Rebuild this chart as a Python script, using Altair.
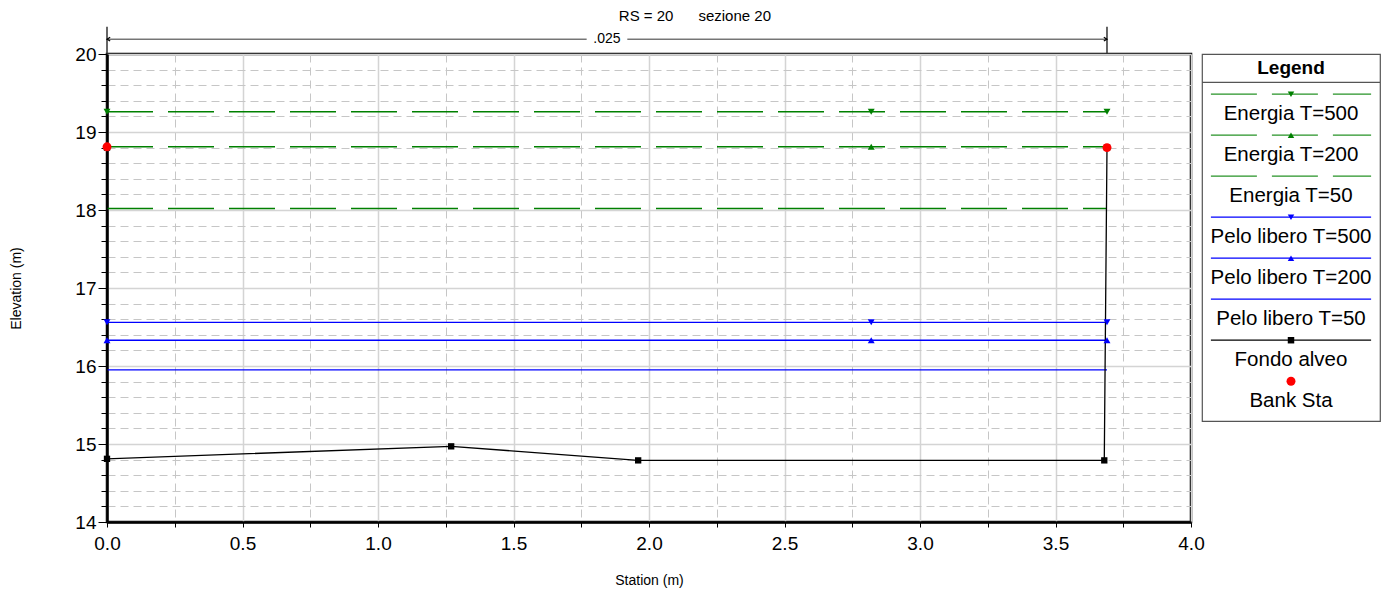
import altair as alt
import pandas as pd

FONT = "Liberation Sans"

# ---------------- data ----------------
title_text = "RS = 20\u00a0\u00a0\u00a0\u00a0\u00a0 sezione 20"

ground_station = [0.0, 0.0, 1.27, 1.96, 3.68, 3.69]
ground_elev = [18.80, 14.81, 14.97, 14.79, 14.79, 18.80]

bank_station = [0.0, 3.69]
bank_elev = [18.81, 18.80]

profile_names = ["Energia T=500", "Energia T=200", "Energia T=50",
                 "Pelo libero T=500", "Pelo libero T=200", "Pelo libero T=50"]
profile_elev = [19.26, 18.81, 18.02, 16.56, 16.33, 15.95]
profile_color = ["#008000", "#008000", "#008000", "#0000ff", "#0000ff", "#0000ff"]
profile_shape = ["triangle-down", "triangle-up", "", "triangle-down", "triangle-up", ""]
profile_is_energy = [True, True, True, False, False, False]
profile_from = 0.0
profile_to = 3.69
marker_stations = [0.0, 2.82, 3.69]

n_value_text = ".025"
n_from = 0.0
n_to = 3.69

x_ticks = [0.0, 0.25, 0.5, 0.75, 1.0, 1.25, 1.5, 1.75, 2.0, 2.25, 2.5, 2.75,
           3.0, 3.25, 3.5, 3.75, 4.0]
y_ticks = [14.0, 14.2, 14.4, 14.6, 14.8, 15.0, 15.2, 15.4, 15.6, 15.8, 16.0,
           16.2, 16.4, 16.6, 16.8, 17.0, 17.2, 17.4, 17.6, 17.8, 18.0, 18.2,
           18.4, 18.6, 18.8, 19.0, 19.2, 19.4, 19.6, 19.8, 20.0]

legend_labels = ["Energia T=500", "Energia T=200", "Energia T=50",
                 "Pelo libero T=500", "Pelo libero T=200", "Pelo libero T=50",
                 "Fondo alveo", "Bank Sta"]
legend_colors = ["#008000", "#008000", "#008000", "#0000ff", "#0000ff", "#0000ff",
                 "#000000", "#ff0000"]
legend_shapes = ["triangle-down", "triangle-up", "", "triangle-down", "triangle-up", "",
                 "square", "circle"]
legend_has_line = [True, True, True, True, True, True, True, False]
legend_dashed = [True, True, True, False, False, False, False, False]

# ---------------- tables ----------------
df_ground = pd.DataFrame({"station": ground_station, "elev": ground_elev,
                          "order": list(range(len(ground_station)))})
df_bank = pd.DataFrame({"station": bank_station, "elev": bank_elev})
df_prof = pd.DataFrame({"name": profile_names, "elev": profile_elev,
                        "color": profile_color, "energy": profile_is_energy,
                        "station": profile_from, "station2": profile_to})
rows = []
for n, e, c, s in zip(profile_names, profile_elev, profile_color, profile_shape):
    if s:
        for st in marker_stations:
            rows.append({"name": n, "station": st, "elev": e, "color": c, "shape": s})
df_marks = pd.DataFrame(rows)

n_mid = (n_from + n_to) / 2
n_gap = 0.075
ANN_Y = 20.19
ANN_TOP = 20.35
df_ann_h = pd.DataFrame({"station": [n_from, n_mid + n_gap], "station2": [n_mid - n_gap, n_to],
                         "elev": [ANN_Y, ANN_Y]})
df_ann_v = pd.DataFrame({"station": [n_from, n_to], "elev": [20.0, 20.0], "elev2": [ANN_TOP, ANN_TOP]})
df_ann_t = pd.DataFrame({"station": [n_mid], "elev": [ANN_Y], "txt": [n_value_text]})
df_arrow_l = pd.DataFrame({"station": [n_from], "elev": [ANN_Y]})
df_arrow_r = pd.DataFrame({"station": [n_to], "elev": [ANN_Y]})

# ---------------- scales / axes ----------------
major_x = "abs(datum.value*2 - round(datum.value*2)) < 0.001"
major_y = "abs(datum.value - round(datum.value)) < 0.001"

xscale = alt.Scale(domain=[0, 4], nice=False, zero=False)
yscale = alt.Scale(domain=[14, 20], nice=False, zero=False)

xaxis = alt.Axis(
    title="Station (m)", values=x_ticks,
    labelExpr=f"({major_x}) ? format(datum.value, '.1f') : ''",
    labelOverlap=False, labelFlush=False, labelFontSize=19, labelFont=FONT,
    labelColor="black", labelPadding=7,
    titleFontSize=14, titleFont=FONT, titleFontWeight="normal", titleColor="black",
    titlePadding=20,
    tickColor="#000000", tickSize=5, tickWidth=1,
    gridColor={"condition": {"test": major_x, "value": "#d4d4d4"}, "value": "#c6c6c6"},
    gridDash={"condition": {"test": major_x, "value": []}, "value": [8, 5]},
    gridWidth={"condition": {"test": major_x, "value": 1.5}, "value": 1},
    domainColor="black", domainWidth=2.5,
)
yaxis = alt.Axis(
    title="Elevation (m)", values=y_ticks,
    labelExpr=f"({major_y}) ? format(datum.value, 'd') : ''",
    labelOverlap=False, labelFontSize=19, labelFont=FONT, labelColor="black",
    labelPadding=2,
    titleFontSize=14, titleFont=FONT, titleFontWeight="normal", titleColor="black",
    titlePadding=51,
    tickColor="#000000",
    tickSize={"condition": {"test": major_y, "value": 9}, "value": 6},
    tickWidth=1,
    gridColor={"condition": {"test": major_y, "value": "#d4d4d4"}, "value": "#c6c6c6"},
    gridDash={"condition": {"test": major_y, "value": []}, "value": [8, 5]},
    gridWidth={"condition": {"test": major_y, "value": 1.5}, "value": 1},
    domainColor="black", domainWidth=2.5,
)


def X(f="station"):
    return alt.X(f"{f}:Q", scale=xscale, axis=xaxis)


def Y(f="elev"):
    return alt.Y(f"{f}:Q", scale=yscale, axis=yaxis)


energy = alt.Chart(df_prof).transform_filter("datum.energy").mark_rule(
    strokeWidth=1.5, strokeDash=[46, 15]).encode(
    x=X(), x2="station2:Q", y=Y(), color=alt.Color("color:N", scale=None))
water = alt.Chart(df_prof).transform_filter("!datum.energy").mark_rule(
    strokeWidth=1.3).encode(
    x=X(), x2="station2:Q", y=Y(), color=alt.Color("color:N", scale=None))
markers = alt.Chart(df_marks).mark_point(filled=True, size=48, opacity=1).encode(
    x=X(), y=Y(), color=alt.Color("color:N", scale=None),
    shape=alt.Shape("shape:N", scale=None))
ground_line = alt.Chart(df_ground).mark_line(color="#000000", strokeWidth=1.3).encode(
    x=X(), y=Y(), order="order:Q")
ground_pts = alt.Chart(df_ground).mark_point(
    shape="square", filled=True, size=40, color="#000000", opacity=1).encode(x=X(), y=Y())
bank = alt.Chart(df_bank).mark_circle(size=80, color="#ff0000", opacity=1).encode(x=X(), y=Y())

ann_h = alt.Chart(df_ann_h).mark_rule(color="#333333", strokeWidth=1, clip=False).encode(
    x=X(), x2="station2:Q", y=Y())
ann_v = alt.Chart(df_ann_v).mark_rule(color="#333333", strokeWidth=1.5, clip=False).encode(
    x=X(), y=Y(), y2="elev2:Q")
ann_t = alt.Chart(df_ann_t).mark_text(font=FONT, fontSize=14, color="black",
                                      baseline="middle", clip=False).encode(
    x=X(), y=Y(), text="txt:N")
arrow_l = alt.Chart(df_arrow_l).mark_point(
    shape="M1,-0.6L0,0L1,0.6", filled=False, size=40, color="#000000",
    strokeWidth=1.2, opacity=1, clip=False).encode(x=X(), y=Y())
arrow_r = alt.Chart(df_arrow_r).mark_point(
    shape="M-1,-0.6L0,0L-1,0.6", filled=False, size=40, color="#000000",
    strokeWidth=1.2, opacity=1, clip=False).encode(x=X(), y=Y())

main = alt.layer(energy, water, ground_line, ground_pts, markers, bank,
                 ann_h, ann_v, ann_t, arrow_l, arrow_r).properties(
    width=1084, height=468,
    view=alt.ViewBackground(stroke="#000000", strokeWidth=2.5),
)

# ---------------- legend panel ----------------
L_LINE0 = 0.98
L_LABEL0 = 1.46
lg_rows = []
for i, (lab, col, shp, hl, dsh) in enumerate(zip(legend_labels, legend_colors, legend_shapes,
                                                  legend_has_line, legend_dashed)):
    lg_rows.append({"label": lab, "color": col, "shape": shp, "line": hl, "dashed": dsh,
                    "yl": i + L_LINE0, "yt": i + L_LABEL0, "x1": 0.05, "x2": 0.95, "xm": 0.5})
df_lg = pd.DataFrame(lg_rows)

lx = alt.Scale(domain=[0, 1])
ly = alt.Scale(domain=[0, 8.95], reverse=True)

lg_dash = alt.Chart(df_lg).transform_filter("datum.dashed").mark_rule(
    strokeWidth=1.3, strokeDash=[46, 15], opacity=0.85).encode(
    x=alt.X("x1:Q", scale=lx, axis=None), x2="x2:Q",
    y=alt.Y("yl:Q", scale=ly, axis=None), color=alt.Color("color:N", scale=None))
lg_solid = alt.Chart(df_lg).transform_filter("datum.line && !datum.dashed").mark_rule(
    strokeWidth=1.3).encode(
    x=alt.X("x1:Q", scale=lx, axis=None), x2="x2:Q",
    y=alt.Y("yl:Q", scale=ly, axis=None), color=alt.Color("color:N", scale=None))
lg_mark = alt.Chart(df_lg).transform_filter("datum.shape != ''").mark_point(
    filled=True, opacity=1).encode(
    x=alt.X("xm:Q", scale=lx, axis=None), y=alt.Y("yl:Q", scale=ly, axis=None),
    color=alt.Color("color:N", scale=None), shape=alt.Shape("shape:N", scale=None),
    size=alt.condition("datum.shape == 'circle'", alt.value(80), alt.value(42)))
lg_text = alt.Chart(df_lg).mark_text(font=FONT, fontSize=20.5, color="black",
                                     baseline="middle", align="center").encode(
    x=alt.X("xm:Q", scale=lx, axis=None), y=alt.Y("yt:Q", scale=ly, axis=None),
    text="label:N")
df_lg_head = pd.DataFrame({"xm": [0.5], "yt": [0.33], "label": ["Legend"]})
lg_head = alt.Chart(df_lg_head).mark_text(font=FONT, fontSize=19, fontWeight="bold",
                                          color="black", baseline="middle").encode(
    x=alt.X("xm:Q", scale=lx, axis=None), y=alt.Y("yt:Q", scale=ly, axis=None),
    text="label:N")
df_lg_sep = pd.DataFrame({"x1": [0.0], "x2": [1.0], "ys": [0.69]})
lg_sep = alt.Chart(df_lg_sep).mark_rule(color="#555555", strokeWidth=1.2).encode(
    x=alt.X("x1:Q", scale=lx, axis=None), x2="x2:Q",
    y=alt.Y("ys:Q", scale=ly, axis=None))

legend = alt.layer(lg_sep, lg_dash, lg_solid, lg_mark, lg_text, lg_head).properties(
    width=178, height=367,
    view=alt.ViewBackground(stroke="#555555", strokeWidth=1.2),
)

chart = alt.hconcat(main, legend, spacing=11, bounds="flush").properties(
    padding=0,
    title=alt.TitleParams(text=title_text, font=FONT, fontSize=15, fontWeight="normal",
                          color="black", anchor="middle", frame="bounds", offset=1),
).configure_view(stroke=None)

chart.save("out.html", embed_options={"renderer": "svg", "actions": False})
